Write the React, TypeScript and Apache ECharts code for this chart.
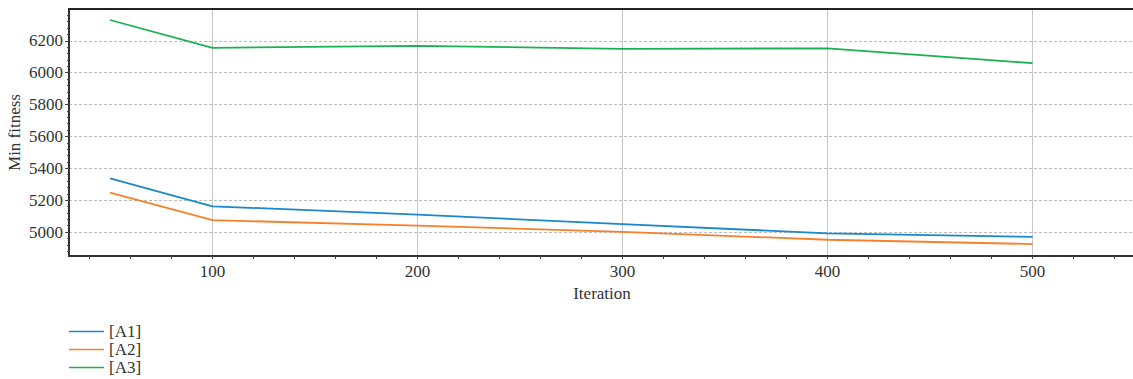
import React, { useEffect, useRef } from "react";
import * as echarts from "echarts";

const iterations = [50, 100, 200, 300, 400, 500];
const seriesNames = ["[A1]", "[A2]", "[A3]"];
const a1 = [5337, 5162, 5110, 5050, 4992, 4970];
const a2 = [5248, 5075, 5040, 5002, 4952, 4925];
const a3 = [6331, 6156, 6169, 6150, 6153, 6060];
const xLabels = [100, 200, 300, 400, 500];
const xMinorTicks = [40, 60, 80, 100, 120, 140, 160, 180, 200, 220, 240, 260, 280, 300, 320, 340, 360, 380, 400, 420, 440, 460, 480, 500, 520, 540];
const yLabels = [5000, 5200, 5400, 5600, 5800, 6000, 6200];
const yMinorTicks = [4880, 4920, 4960, 5040, 5080, 5120, 5160, 5240, 5280, 5320, 5360, 5440, 5480, 5520, 5560, 5640, 5680, 5720, 5760, 5840, 5880, 5920, 5960, 6040, 6080, 6120, 6160, 6240, 6280, 6320, 6360];
const colors = ["#1a88c9", "#f7812b", "#1bb152"];

const FONT = "'Liberation Serif', serif";
const FS = 17;

export default function App() {
  const ref = useRef<HTMLDivElement>(null);
  useEffect(() => {
    if (!ref.current) return;
    const chart = echarts.init(ref.current, null, { renderer: "svg" });
    const values = [a1, a2, a3];
    const plain = (v: number) => String(v);
    chart.setOption({
      animation: false,
      textStyle: { fontFamily: FONT },
      grid: { left: 69, top: 9, right: -2, bottom: 123, containLabel: false, outerBoundsMode: "none" },
      legend: {
        orient: "vertical",
        left: 64,
        top: 318,
        height: 61,
        icon: "rect",
        itemWidth: 35,
        itemHeight: 1.6,
        itemGap: 1,
        textStyle: { fontFamily: FONT, fontSize: FS, color: "#333" },
        data: seriesNames,
      },
      xAxis: [
        {
          type: "value",
          min: 30,
          max: 550,
          position: "bottom",
          name: "Iteration",
          nameLocation: "middle",
          nameGap: 29,
          nameMoveOverlap: false,
          nameTextStyle: { fontFamily: FONT, fontSize: FS, color: "#333" },
          axisLine: { show: true, lineStyle: { color: "#333", width: 2 } },
          axisTick: { show: true, customValues: xMinorTicks, length: 3, lineStyle: { color: "#444" } },
          axisLabel: { customValues: xLabels, formatter: plain, margin: 7, fontFamily: FONT, fontSize: FS, color: "#333" },
          splitLine: { show: false },
        },
        {
          type: "value",
          min: 30,
          max: 550,
          position: "top",
          axisLine: { show: true, lineStyle: { color: "#222", width: 2 } },
          axisTick: { show: false, customValues: xLabels },
          axisLabel: { show: false, customValues: xLabels },
          splitLine: { show: true, lineStyle: { color: "#c6c6c6", width: 1 } },
        },
      ],
      yAxis: [
        {
          type: "value",
          min: 4850,
          max: 6400,
          position: "left",
          name: "Min fitness",
          nameLocation: "middle",
          nameGap: 46,
          nameMoveOverlap: false,
          nameTextStyle: { fontFamily: FONT, fontSize: FS, color: "#333" },
          axisLine: { show: true, lineStyle: { color: "#333", width: 2 } },
          axisTick: { show: true, customValues: yLabels, length: 4, lineStyle: { color: "#444" } },
          axisLabel: { customValues: yLabels, formatter: plain, margin: 6, fontFamily: FONT, fontSize: FS, color: "#333" },
          splitLine: { show: true, lineStyle: { color: "#bdbdbd", type: [3, 2], width: 1 } },
        },
        {
          type: "value",
          min: 4850,
          max: 6400,
          position: "left",
          axisLine: { show: false },
          axisTick: { show: true, customValues: yMinorTicks, length: 2, lineStyle: { color: "#444" } },
          axisLabel: { show: false, customValues: yMinorTicks },
          splitLine: { show: false },
        },
      ],
      series: seriesNames.map((name, i) => ({
        name,
        type: "line",
        xAxisIndex: 0,
        yAxisIndex: 0,
        symbol: "none",
        showSymbol: false,
        data: iterations.map((x, j) => [x, values[i][j]]),
        lineStyle: { color: colors[i], width: 1.8 },
        itemStyle: { color: colors[i] },
      })),
    });
    return () => chart.dispose();
  }, []);
  return (
    <div
      ref={ref}
      style={{ position: "absolute", left: 0, top: 0, width: 1133, height: 379, background: "#fff" }}
    />
  );
}
